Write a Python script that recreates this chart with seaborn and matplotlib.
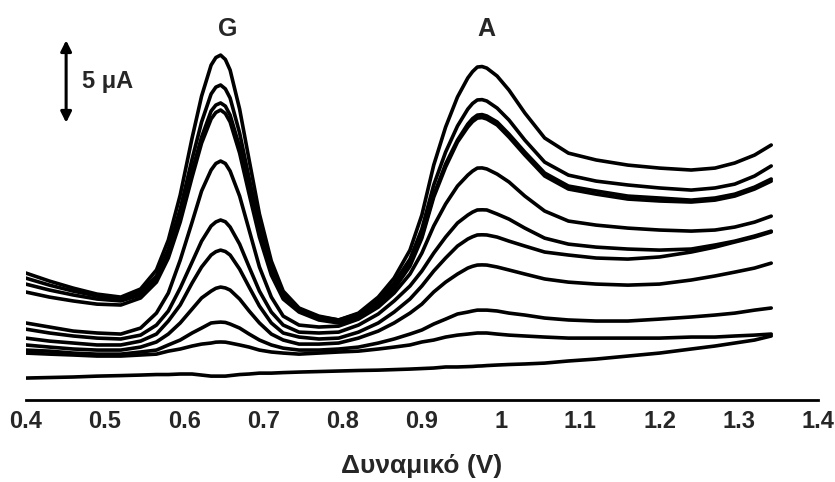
import numpy as np
import pandas as pd
import seaborn as sns
import matplotlib.pyplot as plt

# potential grid (V) shared by all scans
potential = [0.40, 0.43, 0.46, 0.49, 0.52, 0.545, 0.565, 0.58, 0.595, 0.61,
             0.622, 0.634, 0.64, 0.646, 0.652, 0.658, 0.67, 0.682, 0.695, 0.71,
             0.725, 0.745, 0.77, 0.795, 0.82, 0.845, 0.865, 0.885, 0.90, 0.915,
             0.93, 0.945, 0.958, 0.964, 0.97, 0.976, 0.982, 0.995, 1.01, 1.03,
             1.055, 1.085, 1.12, 1.16, 1.20, 1.24, 1.27, 1.295, 1.32, 1.341]

# current (uA), top to bottom
scan1 = [7.22, 6.76, 6.36, 6.02, 5.85, 6.31, 7.39, 9.09, 11.65, 14.89,
         17.27, 19.03, 19.46, 19.60, 19.35, 18.75, 16.53, 13.64, 10.57, 7.90,
         6.19, 5.23, 4.77, 4.55, 4.94, 5.85, 6.93, 8.52, 10.51, 13.35,
         15.51, 17.22, 18.30, 18.66, 18.92, 18.95, 18.86, 18.41, 17.61, 16.31,
         14.89, 14.03, 13.64, 13.35, 13.18, 13.07, 13.18, 13.47, 13.92, 14.49]
scan2 = [6.93, 6.53, 6.19, 5.91, 5.74, 6.14, 7.05, 8.58, 10.85, 13.69,
         15.80, 17.39, 17.78, 17.90, 17.68, 17.16, 15.17, 12.61, 9.89, 7.50,
         6.02, 5.17, 4.72, 4.55, 4.89, 5.68, 6.65, 8.01, 9.72, 12.22,
         14.09, 15.57, 16.53, 16.85, 17.05, 17.07, 16.99, 16.59, 15.91, 14.77,
         13.52, 12.78, 12.44, 12.22, 12.05, 11.93, 12.05, 12.27, 12.73, 13.30]
scan3 = [6.59, 6.25, 5.97, 5.74, 5.63, 5.97, 6.88, 8.30, 10.34, 13.01,
         14.94, 16.42, 16.76, 16.88, 16.70, 16.19, 14.38, 12.05, 9.49, 7.27,
         5.91, 5.11, 4.66, 4.49, 4.83, 5.57, 6.42, 7.73, 9.32, 11.65,
         13.41, 14.77, 15.68, 15.99, 16.19, 16.22, 16.14, 15.80, 15.11, 14.09,
         12.90, 12.16, 11.88, 11.59, 11.48, 11.36, 11.48, 11.70, 12.10, 12.56]
scan4 = [6.14, 5.85, 5.63, 5.45, 5.40, 5.80, 6.70, 8.07, 10.11, 12.67,
         14.60, 15.97, 16.34, 16.48, 16.28, 15.80, 14.03, 11.70, 9.26, 7.10,
         5.74, 5.00, 4.55, 4.38, 4.72, 5.45, 6.31, 7.61, 9.20, 11.53,
         13.24, 14.66, 15.51, 15.82, 16.02, 16.05, 15.97, 15.63, 14.94, 13.92,
         12.73, 11.99, 11.70, 11.42, 11.31, 11.25, 11.36, 11.59, 11.99, 12.44]
scan5 = [4.38, 4.15, 3.92, 3.81, 3.75, 4.09, 4.94, 6.08, 7.95, 10.11,
         11.88, 13.07, 13.44, 13.58, 13.44, 13.01, 11.59, 9.66, 7.56, 5.85,
         4.77, 4.26, 4.15, 4.20, 4.60, 5.28, 6.08, 7.16, 8.35, 9.89,
         11.14, 12.16, 12.78, 13.01, 13.18, 13.19, 13.13, 12.84, 12.39, 11.59,
         10.74, 10.17, 9.94, 9.77, 9.66, 9.60, 9.66, 9.83, 10.11, 10.45]
scan6 = [4.03, 3.81, 3.64, 3.52, 3.47, 3.69, 4.26, 5.06, 6.36, 7.84,
         9.03, 9.89, 10.12, 10.23, 10.13, 9.83, 8.86, 7.56, 6.19, 5.00,
         4.26, 3.86, 3.81, 3.86, 4.26, 4.89, 5.63, 6.48, 7.33, 8.35,
         9.26, 10.06, 10.51, 10.68, 10.80, 10.81, 10.80, 10.57, 10.28, 9.77,
         9.20, 8.86, 8.69, 8.58, 8.52, 8.58, 8.81, 9.03, 9.32, 9.60]
scan7 = [3.52, 3.35, 3.24, 3.13, 3.13, 3.35, 3.75, 4.49, 5.40, 6.65,
         7.56, 8.24, 8.43, 8.52, 8.44, 8.24, 7.44, 6.42, 5.34, 4.38,
         3.81, 3.58, 3.47, 3.52, 3.86, 4.38, 5.00, 5.74, 6.48, 7.33,
         8.07, 8.75, 9.15, 9.28, 9.38, 9.39, 9.38, 9.26, 9.03, 8.75,
         8.41, 8.24, 8.07, 8.01, 8.13, 8.41, 8.69, 8.98, 9.26, 9.55]
scan8 = [3.13, 3.01, 2.90, 2.84, 2.84, 3.01, 3.30, 3.75, 4.38, 5.17,
         5.80, 6.19, 6.35, 6.42, 6.37, 6.25, 5.74, 5.06, 4.38, 3.75,
         3.41, 3.18, 3.18, 3.24, 3.52, 3.92, 4.38, 4.94, 5.45, 6.14,
         6.70, 7.16, 7.50, 7.60, 7.67, 7.68, 7.67, 7.56, 7.39, 7.16,
         6.88, 6.70, 6.59, 6.53, 6.59, 6.82, 7.05, 7.27, 7.50, 7.78]
scan9 = [2.84, 2.78, 2.67, 2.61, 2.61, 2.73, 2.84, 3.13, 3.41, 3.81,
         4.09, 4.38, 4.41, 4.43, 4.41, 4.32, 4.09, 3.75, 3.41, 3.13,
         2.95, 2.84, 2.84, 2.90, 3.01, 3.24, 3.47, 3.75, 3.98, 4.32,
         4.60, 4.89, 5.00, 5.06, 5.11, 5.11, 5.11, 5.06, 4.94, 4.83,
         4.66, 4.55, 4.49, 4.49, 4.60, 4.72, 4.83, 4.94, 5.11, 5.23]
scan10 = [2.67, 2.61, 2.56, 2.50, 2.50, 2.56, 2.61, 2.78, 2.90, 3.07,
          3.18, 3.24, 3.29, 3.30, 3.29, 3.24, 3.13, 3.01, 2.84, 2.73,
          2.67, 2.61, 2.67, 2.73, 2.78, 2.90, 3.01, 3.13, 3.30, 3.41,
          3.58, 3.69, 3.75, 3.78, 3.81, 3.81, 3.81, 3.75, 3.69, 3.64,
          3.58, 3.52, 3.52, 3.52, 3.52, 3.58, 3.58, 3.64, 3.69, 3.75]
blank = [1.25, 1.28, 1.31, 1.36, 1.39, 1.42, 1.45, 1.45, 1.48, 1.48,
         1.42, 1.36, 1.36, 1.36, 1.36, 1.39, 1.45, 1.48, 1.53, 1.53,
         1.56, 1.59, 1.62, 1.65, 1.68, 1.70, 1.73, 1.76, 1.79, 1.82,
         1.88, 1.88, 1.90, 1.91, 1.93, 1.94, 1.96, 1.99, 2.02, 2.05,
         2.10, 2.22, 2.33, 2.50, 2.67, 2.90, 3.07, 3.24, 3.41, 3.64]

scans = [scan1, scan2, scan3, scan4, scan5, scan6, scan7, scan8, scan9, scan10, blank]

x_ticks = [0.4, 0.5, 0.6, 0.7, 0.8, 0.9, 1.0, 1.1, 1.2, 1.3, 1.4]
x_tick_labels = ['0.4', '0.5', '0.6', '0.7', '0.8', '0.9', '1', '1.1', '1.2', '1.3', '1.4']

df = pd.concat([pd.DataFrame({'E': potential, 'I': s, 'scan': i}) for i, s in enumerate(scans)])

sns.set_style("white")
plt.rcParams['font.family'] = ['Liberation Sans', 'DejaVu Sans']
plt.rcParams['font.weight'] = 'bold'

fig = plt.figure(figsize=(8.35, 4.82), dpi=100)
ax = fig.add_axes([0.0308, 0.170, 0.9488, 0.830])

sns.lineplot(data=df, x='E', y='I', units='scan', estimator=None, color='black',
             linewidth=2.6, ax=ax, legend=False)

ax.set_xlim(0.4, 1.4)
ax.set_ylim(0, 22.73)
ax.set_xticks(x_ticks)
ax.set_xticklabels(x_tick_labels, fontsize=17, fontweight='bold')
ax.set_yticks([])
ax.set_ylabel('')
ax.set_xlabel('Δυναμικό (V)', fontsize=19, fontweight='bold', labelpad=15)
ax.tick_params(axis='x', direction='out', length=4, width=1.5, color='black', pad=3)
for side in ['top', 'right', 'left']:
    ax.spines[side].set_visible(False)
ax.spines['bottom'].set_color('black')
ax.spines['bottom'].set_linewidth(2)

# peak labels
ax.text(0.655, 21.1, 'G', fontsize=18, fontweight='bold', ha='center', va='center')
ax.text(0.982, 21.1, 'A', fontsize=18, fontweight='bold', ha='center', va='center')

# 5 uA scale bar
ax.annotate('', xy=(0.451, 20.6), xytext=(0.451, 15.6),
            arrowprops=dict(arrowstyle='<|-|>', color='black', lw=2.2, mutation_scale=16))
ax.text(0.471, 18.1, '5 μA', fontsize=17, fontweight='bold', ha='left', va='center')

fig.savefig('out.png', dpi=100)
